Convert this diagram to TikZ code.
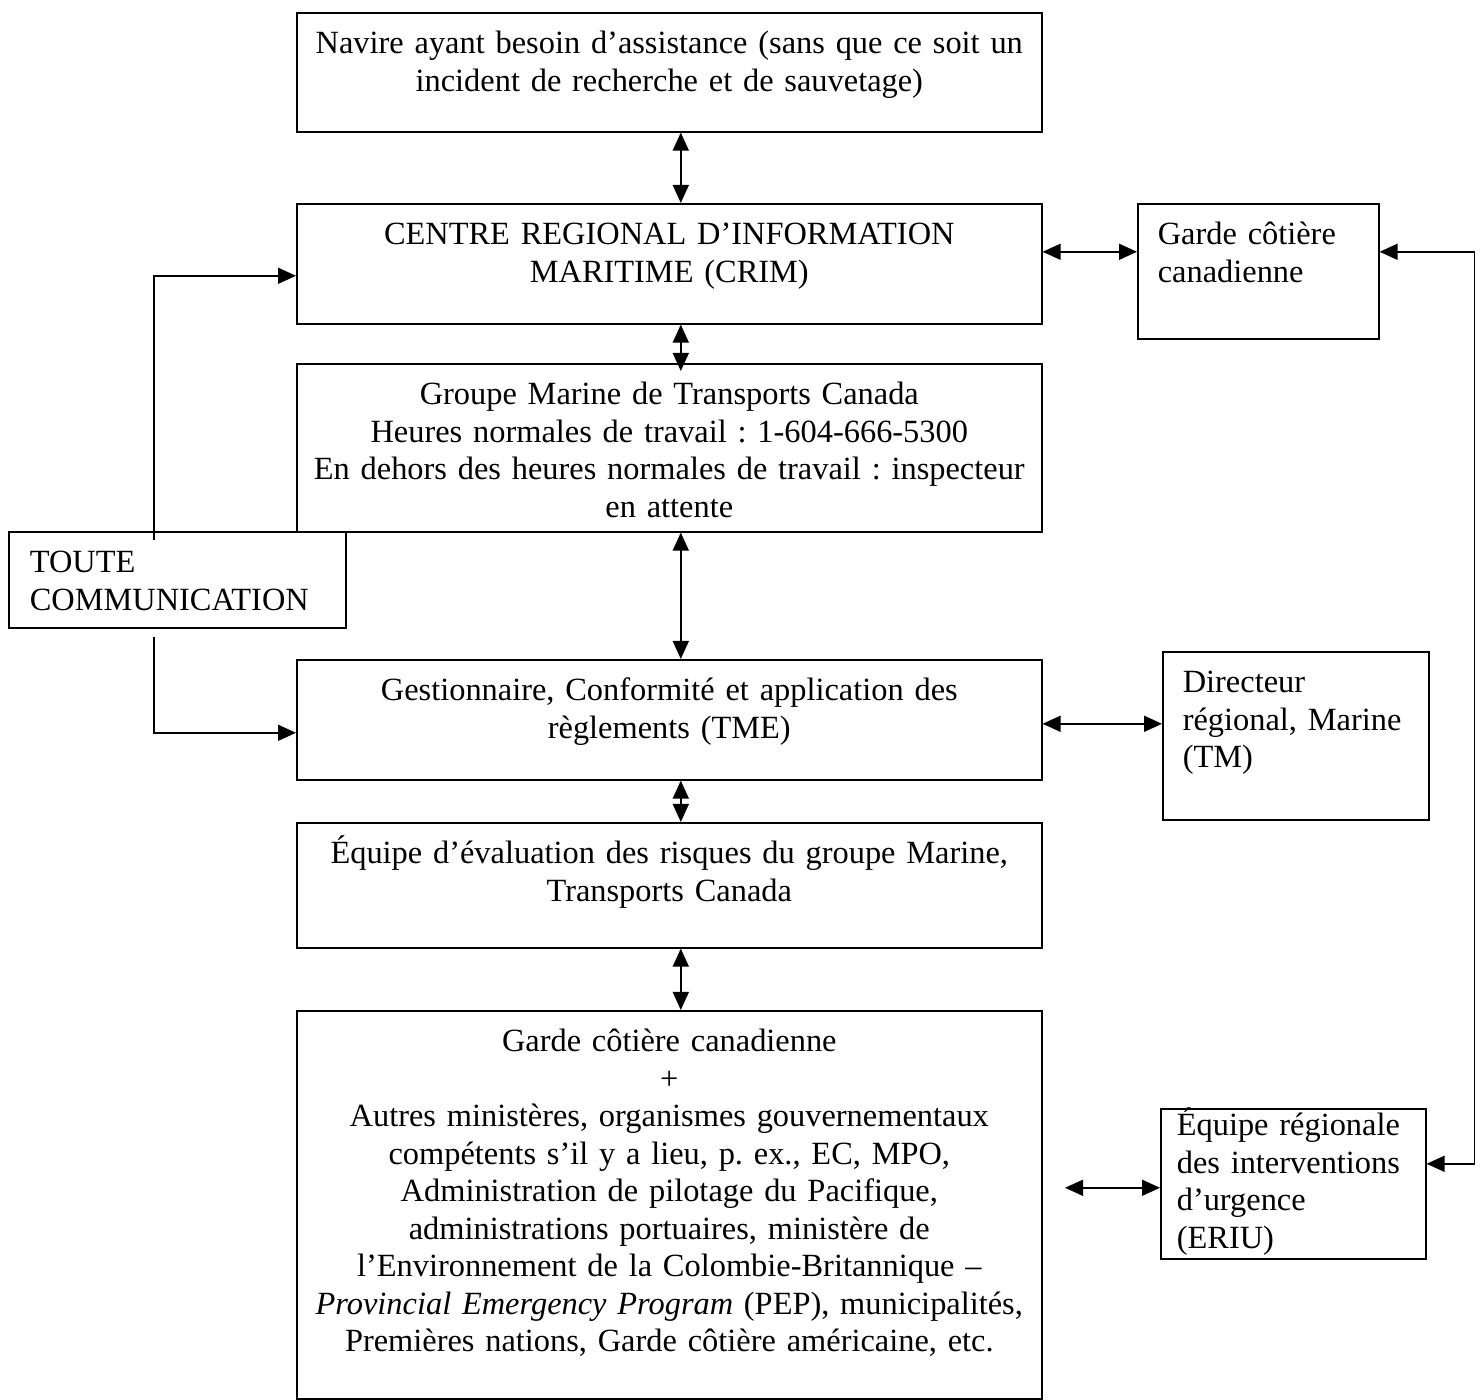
\documentclass[tikz,border=0pt]{standalone}
\usepackage{fontspec}
\setmainfont{Liberation Serif}
\usetikzlibrary{arrows.meta,positioning}
\frenchspacing

\begin{document}
\begin{tikzpicture}[
    x=0.5pt, y=-0.5pt,
    font=\fontsize{16.2}{18.75}\selectfont,
    box/.style={draw=black, line width=0.8pt, anchor=north west, inner xsep=0pt, inner ysep=0pt, text width=372.5pt, align=center, text height=20.5pt},
    sidebox/.style={draw=black, line width=0.8pt, anchor=north west, inner xsep=10pt, inner ysep=0pt, align=left, text height=20.5pt},
    arrow/.style={{Triangle[length=9pt,width=8pt]}-{Triangle[length=9pt,width=8pt]}, line width=0.8pt},
    toarrow/.style={-{Triangle[length=9pt,width=8pt]}, line width=0.8pt}
]
\useasboundingbox (0,0) rectangle (1480,1400);

\node[box, text depth=39pt] (navire) at (296,12) {Navire ayant besoin d’assistance (sans que ce soit un\\incident de recherche et de sauvetage)};
\node[box, text depth=39.5pt] (crim) at (296,203) {CENTRE REGIONAL D’INFORMATION\\MARITIME (CRIM)};
\node[box, text depth=63.5pt] (groupe) at (296,363) {Groupe Marine de Transports Canada\\Heures normales de travail : 1-604-666-5300\\En dehors des heures normales de travail : inspecteur\\en attente};
\node[box, text depth=39.5pt] (gest) at (296,659) {Gestionnaire, Conformité et application des\\règlements (TME)};
\node[box, text depth=42pt] (equipe) at (296,822) {Équipe d’évaluation des risques du groupe Marine,\\Transports Canada};
\node[box, text depth=173.5pt] (autres) at (296,1010) {Garde côtière canadienne\\+\\Autres ministères, organismes gouvernementaux\\compétents s’il y a lieu, p. ex., EC, MPO,\\Administration de pilotage du Pacifique,\\administrations portuaires, ministère de\\l’Environnement de la Colombie-Britannique –\\\textit{Provincial Emergency Program} (PEP), municipalités,\\Premières nations, Garde côtière américaine, etc.};

\node[sidebox, inner xsep=10.5pt, text width=147.5pt, text depth=27.5pt] (toute) at (8,531) {TOUTE\\COMMUNICATION};
\node[sidebox, text width=100.5pt, text depth=47pt] (garde) at (1137,203) {Garde côtière\\canadienne};
\node[sidebox, text width=113pt, text depth=63.5pt] (dir) at (1162,651) {Directeur\\régional, Marine\\(TM)};
\node[sidebox, inner xsep=8pt, text width=116.5pt, text height=13.5pt, text depth=61.5pt] (eriu) at (1160,1108) {Équipe régionale\\des interventions\\d’urgence\\(ERIU)};

\coordinate[left=47.5pt of {[yshift=-2pt]eriu.west}] (eriuend);

% central column
\draw[arrow] ([xshift=5.75pt]navire.south) -- ([xshift=5.75pt]crim.north);
\draw[arrow, shorten >=-4pt] ([xshift=5.75pt]crim.south) -- ([xshift=5.75pt]groupe.north);
\draw[arrow] ([xshift=5.75pt]groupe.south) -- ([xshift=5.75pt]gest.north);
\draw[arrow] ([xshift=5.75pt]gest.south) -- ([xshift=5.75pt]equipe.north);
\draw[arrow] ([xshift=5.75pt]equipe.south) -- ([xshift=5.75pt]autres.north);

% right side
\draw[arrow] ([yshift=6pt]crim.east) -- ([yshift=6pt]crim.east -| garde.west);
\draw[arrow] ([yshift=-2pt]gest.east) -- ([yshift=-2pt]gest.east -| dir.west);
\draw[arrow] (eriuend) -- (eriuend -| eriu.west);
\draw[arrow] ([yshift=9.75pt]garde.east) -- ++(95,0) |- ([yshift=10pt]eriu.east);

% left side
\draw[toarrow] ([xshift=-11.75pt,yshift=-4.5pt]toute.north) |- ([yshift=-6pt]crim.west);
\draw[toarrow] ([xshift=-11.75pt,yshift=-4pt]toute.south) |- ([yshift=-6.5pt]gest.west);
\end{tikzpicture}
\end{document}
